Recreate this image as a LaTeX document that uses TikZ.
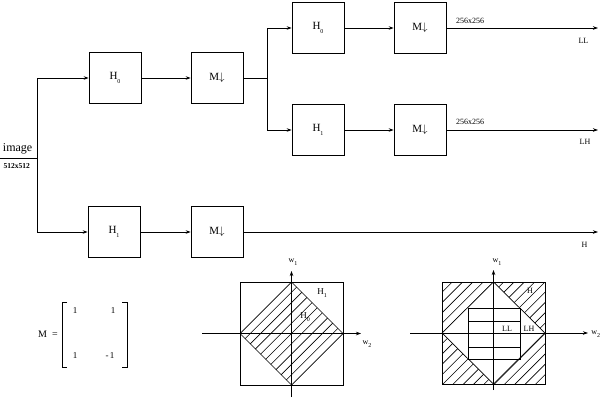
\documentclass[tikz,border=0pt]{standalone}
\usepackage{fontspec}
\setmainfont{Liberation Serif}
\usetikzlibrary{arrows.meta}
\newcommand{\lowsub}[2]{#1\raisebox{-0.7ex}{\fontsize{6}{7}\selectfont #2}}
\newcommand{\mdown}{M$\downarrow$}
\begin{document}
\begin{tikzpicture}[x=1pt, y=-1pt, line width=0.7pt,
    box/.style={draw, minimum width=52pt, minimum height=51pt, inner sep=0pt, font=\fontsize{11}{13}\selectfont},
    small/.style={font=\fontsize{8}{9}\selectfont},
    >={Stealth[length=5pt, width=3.5pt]}]
    \useasboundingbox (0,0) rectangle (602,407);

    % filter bank
    \node[box] (h0a) at (115,78) {\lowsub{H}{0}};
    \node[box] (ma) at (217,78) {\mdown};
    \node[box] (h0b) at (318,28) {\lowsub{H}{0}};
    \node[box] (mb) at (420,28) {\mdown};
    \node[box] (h1b) at (318,130) {\lowsub{H}{1}};
    \node[box] (mc) at (420,130) {\mdown};
    \node[box] (h1a) at (114,232) {\lowsub{H}{1}};
    \node[box] (md) at (217,232) {\mdown};

    \coordinate (in) at (0,158);
    \coordinate (s1) at (37,158);
    \coordinate (s2) at (267,78);
    \coordinate (ll) at (598,28);
    \coordinate (lh) at (598,130);
    \coordinate (hh) at (598,232);

    \draw (in) -- (s1);
    \draw[->] (s1) |- (h0a.west);
    \draw[->] (s1) |- (h1a.west);
    \draw[->] (h0a) -- (ma);
    \draw (ma) -- (s2);
    \draw[->] (s2) |- (h0b.west);
    \draw[->] (s2) |- (h1b.west);
    \draw[->] (h0b) -- (mb);
    \draw[->] (h1b) -- (mc);
    \draw[->] (h1a) -- (md);
    \draw[->] (mb) -- (ll);
    \draw[->] (mc) -- (lh);
    \draw[->] (md) -- (hh);

    \node[anchor=base east, font=\fontsize{12}{14}\selectfont] (img) at (36,151) {image};
    \node[anchor=base west, small, font=\fontsize{7.5}{9}\selectfont\bfseries] (isz) at (0,168) {512x512};
    \node[anchor=base, small] (szb) at (470,23) {256x256};
    \node[anchor=base, small] (szc) at (470,124) {256x256};
    \node[anchor=base east, small] (lll) at (592,43) {LL};
    \node[anchor=base east, small] (lhl) at (594,144) {LH};
    \node[anchor=base east, small] (hl) at (591,247) {H};

    % matrix M
    \node[anchor=base, font=\fontsize{10}{12}\selectfont] (meq) at (48,337) {M\ \ =};
    \draw (67,302) -- (62,302) -- (62,367) -- (67,367);
    \draw (122,302) -- (127,302) -- (127,367) -- (122,367);
    \node[anchor=base, font=\fontsize{9}{10}\selectfont] (m11) at (75,313) {1};
    \node[anchor=base, font=\fontsize{9}{10}\selectfont] (m12) at (113,313) {1};
    \node[anchor=base, font=\fontsize{9}{10}\selectfont] (m21) at (75,358) {1};
    \node[anchor=base, font=\fontsize{9}{10}\selectfont] (m22) at (110,358) {-\,1};

    % first spectrum
    \begin{scope}
      \clip (240,333.5) -- (291.5,282) -- (343,333.5) -- (291.5,385) -- cycle;
      \foreach \c in {1,...,9}
        \draw[line width=0.6pt] ({573.5+10.3*\c-280},280) -- ({573.5+10.3*\c-390},390);
    \end{scope}
    \draw (240,282) rectangle (343,385);
    \draw (240,333.5) -- (291.5,282) -- (343,333.5) -- (291.5,385) -- cycle;
    \draw[->] (291.5,397) -- (291.5,271);
    \draw[->] (202,333.5) -- (361,333.5);
    \node[small] (wa1) at (293,262) {\lowsub{w}{1}};
    \node[small] (wa2) at (367,344) {\lowsub{w}{2}};
    \node[font=\fontsize{9}{10}\selectfont] (ha1) at (322,293) {\lowsub{H}{1}};
    \node[font=\fontsize{9}{10}\selectfont] (ha0) at (305,317) {\lowsub{H}{0}};

    % second spectrum
    \begin{scope}
      \clip (442,282) rectangle (545,384);
      \foreach \c in {1,...,19}
        \draw[line width=0.6pt] ({724+10.3*\c-280},280) -- ({724+10.3*\c-390},390);
    \end{scope}
    \fill[white] (442,333) -- (493.5,282) -- (545,333) -- (493.5,384) -- cycle;
    \draw (442,333) -- (493.5,282) -- (545,333) -- (493.5,384) -- cycle;
    \draw (442,282) rectangle (545,384);
    \draw (468,308) rectangle (520,359);
    \draw (468,321) -- (520,321);
    \draw (468,347) -- (520,347);
    \draw[->] (493.5,390) -- (493.5,270);
    \draw[->] (410,333) -- (588,333);
    \node[small, anchor=west, inner sep=1pt] (wb2) at (590,334) {\lowsub{w}{2}};
    \node[small] (wb1) at (497,262) {\lowsub{w}{1}};
    \node[small] (hb) at (530,291) {H};
    \node[small] (llb) at (507,329) {LL};
    \node[small] (lhb) at (529,329) {LH};
\end{tikzpicture}
\end{document}
